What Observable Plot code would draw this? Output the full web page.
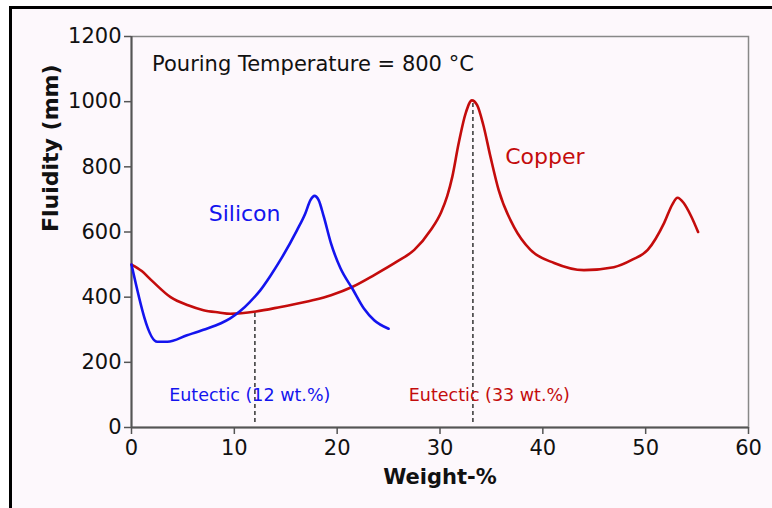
<!DOCTYPE html>
<html>
<head>
<meta charset="utf-8">
<script src="https://cdn.jsdelivr.net/npm/d3@7"></script>
<script src="https://cdn.jsdelivr.net/npm/@observablehq/plot@0.6"></script>
<style>
  body { margin: 0; background: #ffffff; }
  #wrap { position: relative; width: 772px; height: 508px; overflow: hidden; }
  #bg { position: absolute; left: 9px; top: 6px; right: -10px; bottom: -10px;
        border-left: 3px solid #000; border-top: 3px solid #000; background: #fdf8fc; }
  #chart { position: absolute; left: 0; top: 0; }
  #chart svg { background: transparent; }
</style>
</head>
<body>
<div id="wrap"><div id="bg"></div><div id="chart"></div></div>
<script>
// ---- data ----
const siliconWt = [0, 2.5, 3.5, 5.4, 7, 8.7, 9.6, 10.6, 11.5, 12.5, 13.5, 14.5, 16.1, 16.9, 17.4, 17.8, 18.2, 18.7, 19.4, 20.3, 21.5, 22.6, 23.6, 25.0];
const siliconFl = [500, 263, 263, 283, 300, 320, 335, 358, 385, 420, 465, 515, 606, 657, 698, 711, 698, 647, 565, 490, 425, 365, 329, 303];

const copperWt = [0, 1, 2, 3.8, 5.5, 7, 8.5, 9.6, 12.1, 14.5, 17.7, 19.4, 21.5, 23.6, 25.8, 27.5, 29.1, 30.1, 30.7, 31.2, 31.8, 32.5, 33.1, 33.6, 34.2, 34.9, 35.7, 37.2, 38.8, 41.1, 44.0, 46.9, 48.7, 50.2, 51.8, 52.6, 53.1, 53.7, 54.4, 55.1];
const copperFl = [500, 480, 450, 400, 375, 360, 353, 349, 356, 370, 391, 406, 432, 468, 509, 545, 606, 660, 710, 770, 870, 965, 1004, 990, 930, 832, 729, 615, 545, 505, 483, 492, 515, 545, 628, 685, 705, 689, 650, 600];

const eutecticWt = [12, 33.2];
const eutecticTop = [356, 1000];
const eutecticBottom = [15, 15];

const xTicks = [0, 10, 20, 30, 40, 50, 60];
const yTicks = [0, 200, 400, 600, 800, 1000, 1200];

const labelText = ["Pouring Temperature = 800 °C", "Silicon", "Copper", "Eutectic (12 wt.%)", "Eutectic (33 wt.%)"];
const labelWt = [2, 11.0, 40.2, 11.5, 34.8];
const labelFl = [1115, 655, 831, 98, 98];
const labelColor = ["#111111", "#1414ee", "#c40c0c", "#1414ee", "#c40c0c"];
const labelSize = [21, 22, 22, 17.5, 17.5];
const labelAnchor = ["start", "middle", "middle", "middle", "middle"];

const xTitle = "Weight-%";
const yTitle = "Fluidity (mm)";

// ---- tables built from the arrays ----
const silicon = siliconWt.map((x, i) => ({x, y: siliconFl[i]}));
const copper = copperWt.map((x, i) => ({x, y: copperFl[i]}));
const eutectic = eutecticWt.map((x, i) => ({x, y1: eutecticBottom[i], y2: eutecticTop[i]}));
const labels = labelText.map((t, i) => ({t, x: labelWt[i], y: labelFl[i], c: labelColor[i], s: labelSize[i], a: labelAnchor[i]}));

const FONT = "DejaVu Sans";

const textMarks = labels.map(d => Plot.text([d], {
  x: "x", y: "y", text: "t", fill: d.c, fontSize: d.s, textAnchor: d.a, fontFamily: FONT
}));

const chart = Plot.plot({
  width: 772,
  height: 508,
  marginLeft: 131,
  marginRight: 24,
  marginTop: 36,
  marginBottom: 81,
  style: {background: "transparent", fontFamily: FONT, color: "#111"},
  x: {domain: [0, 60]},
  y: {domain: [0, 1200]},
  marks: [
    Plot.frame({stroke: "#888", strokeWidth: 1.5}),
    Plot.ruleX([0], {stroke: "#555", strokeWidth: 2}),
    Plot.ruleY([0], {stroke: "#555", strokeWidth: 2}),
    Plot.axisX({ticks: xTicks, tickSize: 7, tickPadding: 6, fontSize: 21, label: null, stroke: "#555", strokeWidth: 1.5, fill: "#111", tickFormat: d => String(d)}),
    Plot.axisY({ticks: yTicks, tickSize: 7, tickPadding: 3, fontSize: 21, label: null, stroke: "#555", strokeWidth: 1.5, fill: "#111", tickFormat: d => String(d)}),
    Plot.ruleX(eutectic, {x: "x", y1: "y1", y2: "y2", stroke: "#333", strokeWidth: 1.5, strokeDasharray: "4,3"}),
    Plot.line(copper, {x: "x", y: "y", stroke: "#c40c0c", strokeWidth: 2.6, curve: "monotone-x"}),
    Plot.line(silicon, {x: "x", y: "y", stroke: "#1414ee", strokeWidth: 2.6, curve: "monotone-x"}),
    ...textMarks,
    Plot.text([xTitle], {frameAnchor: "bottom", dy: 56, text: d => d, fontWeight: "bold", fontSize: 21, fill: "#111", fontFamily: FONT}),
    Plot.text([yTitle], {frameAnchor: "left", dx: -81, rotate: -90, text: d => d, fontWeight: "bold", fontSize: 22, fill: "#111", fontFamily: FONT})
  ]
});
document.getElementById("chart").appendChild(chart);
</script>
</body>
</html>
